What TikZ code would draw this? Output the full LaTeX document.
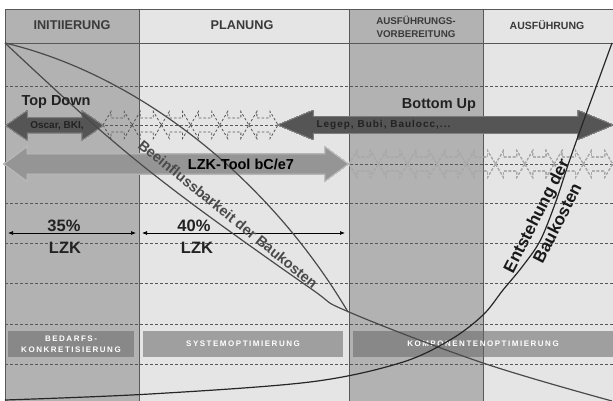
\documentclass[tikz,border=0pt]{standalone}
\usepackage{fontspec}
\setmainfont{Liberation Sans}
\usetikzlibrary{arrows.meta}
\definecolor{darkcol}{HTML}{B2B2B2}
\definecolor{lightcol}{HTML}{E5E5E5}
\definecolor{gridc}{HTML}{585858}
\definecolor{arrdark}{HTML}{555555}
\definecolor{arrmid}{HTML}{959595}
\definecolor{barc}{HTML}{666666}
\definecolor{txtdark}{HTML}{222222}
\definecolor{hdtxt}{HTML}{3A3A3A}
\definecolor{curvec}{HTML}{4A4A4A}
\newcommand{\dblarr}[7][]{%
  \path[#1] (#2,#4) -- (#2+#5,#4-#6) -- (#2+#5,#4-#7) -- (#3-#5,#4-#7) -- (#3-#5,#4-#6)
    -- (#3,#4) -- (#3-#5,#4+#6) -- (#3-#5,#4+#7) -- (#2+#5,#4+#7) -- (#2+#5,#4+#6) -- cycle;}
\begin{document}
\begin{tikzpicture}[x=1pt,y=-1pt,
  gridline/.style={draw=gridc, line width=0.8pt, dash pattern=on 3pt off 2pt},
  colline/.style={draw=gridc, line width=0.9pt},
  hdbig/.style={text=hdtxt, font=\bfseries\fontsize{12.7}{14}\selectfont},
  hdsmall/.style={text=hdtxt, align=center, font=\bfseries\fontsize{10.5}{13}\selectfont},
  bigtxt/.style={text=txtdark, font=\bfseries\fontsize{14.5}{16}\selectfont},
  pcttxt/.style={text=txtdark, font=\bfseries\fontsize{16.5}{18}\selectfont},
  intxt/.style={text=txtdark, font=\bfseries\fontsize{10}{12}\selectfont},
  phasebar/.style={fill=barc, fill opacity=0.55, text opacity=1, text=white, align=center,
     minimum height=26pt, inner sep=0pt,
     font=\bfseries\fontsize{8}{11.5}\selectfont\addfontfeature{LetterSpace=19}},
  chaindark/.style={draw=arrdark, line width=0.8pt, dash pattern=on 2.5pt off 2pt},
  chainlight/.style={draw=arrmid!80, line width=0.8pt, dash pattern=on 2.5pt off 2pt},
  curve/.style={draw=curvec, line width=1.2pt},
  pctarrow/.style={draw=black, line width=0.7pt, {Latex[length=5pt,width=4pt]}-{Latex[length=5pt,width=4pt]}},
  riselabel/.style={rotate=63, text=black!90, font=\bfseries\fontsize{17}{19}\selectfont}
]
\useasboundingbox (0,0) rectangle (613,401);
\fill[white] (0,0) rectangle (613,401);
% columns
\fill[darkcol] (5,9) rectangle (139,401);
\fill[lightcol] (139,9) rectangle (349,401);
\fill[darkcol] (349,9) rectangle (483,401);
\fill[lightcol] (483,9) rectangle (613,401);
% grid
\foreach \yy in {86,125,164,203,243,283,324,364}
  \draw[gridline] (5,\yy) -- (613,\yy);
% column and header lines
\draw[colline] (5,9) -- (613,9);
\draw[colline] (5,43) -- (613,43);
\draw[colline] (5,9) -- (5,401);
\foreach \xx in {139,349,483}
  \draw[colline] (\xx,9) -- (\xx,401);
% dashed arrow chains
\foreach \i in {0,...,5}
  \dblarr[chaindark]{103+\i*29.17}{103+\i*29.17+29.17}{125}{8}{13.5}{7}
\foreach \i in {0,...,8}
  \dblarr[chainlight]{349+\i*29.3}{349+\i*29.3+29.3}{164}{8}{13.5}{7}
% solid arrows
\dblarr[fill=arrdark, draw=arrdark!70!white, line width=0.5pt]{6}{103}{125.5}{21}{14.5}{7.5}
\dblarr[fill=arrdark, draw=arrdark!70!white, line width=0.5pt]{278}{613}{125}{35}{14.5}{8.5}
\dblarr[fill=arrmid, draw=arrmid!60!white, line width=0.6pt]{4}{348}{164}{23}{17}{10}
% percentage arrows
\coordinate (p1a) at (8,233);
\coordinate (p1b) at (136,233);
\coordinate (p2a) at (142,233);
\coordinate (p2b) at (345,233);
\draw[pctarrow] (p1a) -- (p1b);
\draw[pctarrow] (p2a) -- (p2b);
% phase bars
\node[phasebar, minimum width=126pt] (b1) at (71,344) {BEDARFS-\\KONKRETISIERUNG};
\node[phasebar, minimum width=200pt] (b2) at (243,344) {SYSTEMOPTIMIERUNG};
\node[phasebar, minimum width=260pt] (b3) at (483,344) {KOMPONENTENOPTIMIERUNG};
% curves
\draw[curve] (5,43) .. controls (140,75) and (270,180) .. (348,312);
\draw[curve] plot[smooth, tension=0.6] coordinates {(5,43) (100,130) (187,200) (310,288) (349,312) (483,363) (612,401)};
\draw[draw=black!85, line width=1.2pt] plot[smooth, tension=0.55] coordinates {(5,400) (150,394) (310,382) (400,363) (450,340) (483,315) (503,290) (522,267) (540,241) (555,204) (568,165) (581,128) (596,87) (612,43)};
% header texts
\node[hdbig] (h1) at (72,25.5) {INITIIERUNG};
\node[hdbig] (h2) at (242,25.5) {PLANUNG};
\node[hdsmall, font=\bfseries\fontsize{9.8}{13}\selectfont] (h3) at (416,26.5) {AUSFÜHRUNGS-\\VORBEREITUNG};
\node[hdsmall] (h4) at (547,25.5) {AUSFÜHRUNG};
% arrow texts
\node[bigtxt] (td) at (56,102) {Top Down};
\node[bigtxt] (bu) at (439,105) {Bottom Up};
\node[intxt] (os) at (57,126) {Oscar, BKI,};
\node[intxt, anchor=west, font=\bfseries\fontsize{10}{12}\selectfont\addfontfeature{LetterSpace=10}] (lg) at (313,125) {Legep, Bubi, Baulocc,...};
\node[text=black, font=\bfseries\fontsize{14.5}{17}\selectfont] (lzk) at (241,164) {LZK-Tool bC/e7};
% percentages
\node[pcttxt] (n35) at (64,226) {35\%};
\node[pcttxt] (l35) at (65,248) {LZK};
\node[pcttxt] (n40) at (194,226) {40\%};
\node[pcttxt] (l40) at (197,248) {LZK};
% curve labels
\node[rotate=-39, text=curvec, font=\bfseries\fontsize{14.5}{16}\selectfont] (bb) at (228,214) {Beeinflussbarkeit der Baukosten};
\node[riselabel] (eb1) at (537.5,216.5) {Entstehung der};
\node[riselabel] (eb2) at (557,223) {Baukosten};
\end{tikzpicture}
\end{document}
